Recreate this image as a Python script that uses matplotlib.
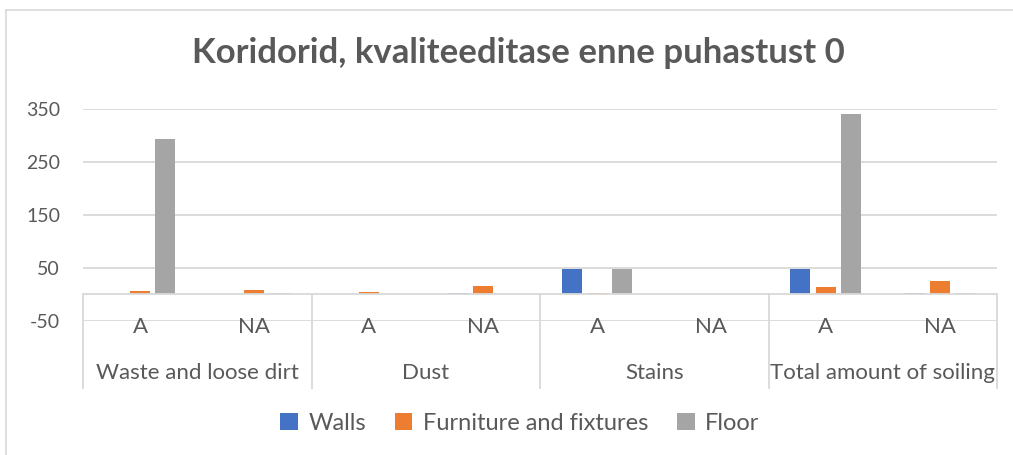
import matplotlib
matplotlib.use("Agg")
import matplotlib.pyplot as plt
import matplotlib.transforms as mtransforms
from matplotlib.lines import Line2D
import numpy as np

subcats = ["A", "NA", "A", "NA", "A", "NA", "A", "NA"]
groups = ["Waste and loose dirt", "Dust", "Stains", "Total amount of soiling"]
series_names = ["Walls", "Furniture and fixtures", "Floor"]
walls = [0, 0, 0, 1.5, 47, 0, 47, 1.5]
furniture = [5, 7, 4, 16, 1.5, 0, 13, 25]
floor = [293, 1.5, 0, 0, 47, 0, 340, 1.5]
yticks = [-50, 50, 150, 250, 350]
title = "Koridorid, kvaliteeditase enne puhastust 0"

colors = ["#4472C4", "#ED7D31", "#A5A5A5"]
txt = "#595959"
grid = "#D9D9D9"
plt.rcParams['font.family'] = ['Lato', 'DejaVu Sans']

W, H = 1013, 455
fig = plt.figure(figsize=(W / 100, H / 100), dpi=100)

# outer chart border (left and top visible)
fig.add_artist(Line2D([6 / W, 6 / W], [0, 1 - 10 / H], color=grid, lw=1.2, transform=fig.transFigure))
fig.add_artist(Line2D([6 / W, 1.0], [1 - 10 / H, 1 - 10 / H], color=grid, lw=1.2, transform=fig.transFigure))

left, right = 83 / W, 997 / W
top, bottom = 109 / H, 320.5 / H
ax = fig.add_axes([left, 1 - bottom, right - left, bottom - top])
ax.set_ylim(-50, 350)
n = len(subcats)
ax.set_xlim(-0.5, n - 0.5)
x = np.arange(n)
off = 0.222
bw = 0.175
for i, (vals, c, name) in enumerate(zip([walls, furniture, floor], colors, series_names)):
    ax.bar(x + (i - 1) * off, vals, width=bw, color=c, label=name, zorder=3)

ax.set_yticks(yticks)
ax.set_yticklabels([str(v) for v in yticks], color=txt, fontsize=14)
ax.tick_params(axis='y', length=0, pad=16.5)
ax.set_xticks([])
for s in ax.spines.values():
    s.set_visible(False)
ax.yaxis.grid(True, color=grid, lw=1.3, zorder=0)
ax.set_axisbelow(True)

# category axis box
trans = mtransforms.blended_transform_factory(ax.transData, ax.transAxes)
axh = (bottom - top) * H
y0 = 50 / 400  # axes fraction of value 0
ybot = (320.5 - 388) / axh
ax.axhline(0, color=grid, lw=1.3, zorder=4)
for b in range(len(groups) + 1):
    xb = -0.5 + 2 * b
    ax.add_line(Line2D([xb, xb], [y0, ybot], color=grid, lw=1.3, transform=trans, clip_on=False))
ysub = (320.5 - 327) / axh
ygrp = (320.5 - 373) / axh
for i, s in enumerate(subcats):
    ax.text(i, ysub, s, transform=trans, ha='center', va='center', color=txt, fontsize=16)
for g, name in enumerate(groups):
    ax.text(2 * g + 0.5, ygrp, name, transform=trans, ha='center', va='center', color=txt, fontsize=16)

fig.text(518 / W, 1 - 53 / H, title, ha='center', va='center', color=txt, fontsize=25, fontweight='bold')

leg = fig.legend(loc='center', bbox_to_anchor=(520 / W, 1 - 423 / H), ncol=3, frameon=False,
                 fontsize=17, handlelength=0.75, handleheight=0.75, columnspacing=1.2, handletextpad=0.45)
for t in leg.get_texts():
    t.set_color(txt)

fig.savefig("out.png", dpi=100)
